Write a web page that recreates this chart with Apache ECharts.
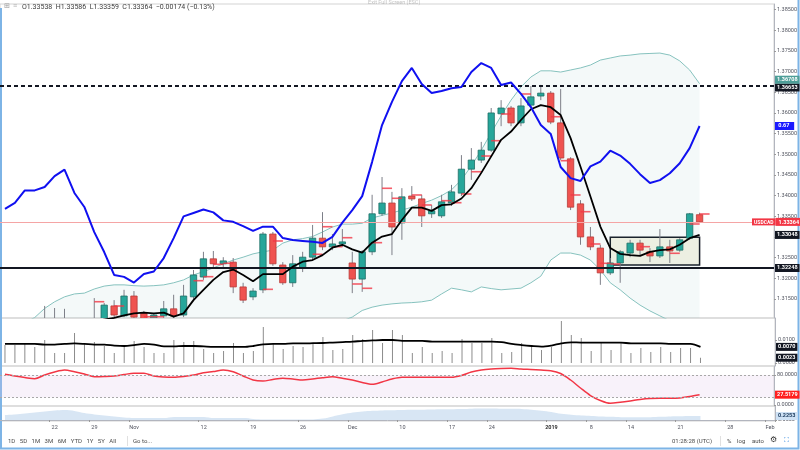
<!DOCTYPE html>
<html><head><meta charset="utf-8">
<script src="https://cdn.jsdelivr.net/npm/echarts@6/dist/echarts.min.js"></script>
<style>html,body{margin:0;padding:0;background:#fff}#c{width:800px;height:450px}</style>
</head><body><div id="c"></div>
<script>
// ---------- DATA ----------
const SLOTS = 78; // daily slots incl. empty future area
const tickIdx  = [5,9,13,20,25,30,35,40,45,49,55,59,63,68,73,77];
const tickText = ['22','29','Nov','12','19','26','Dec','10','17','24','2019','8','14','21','28','Feb'];
const priceTicks = [1.315,1.32,1.325,1.33,1.335,1.34,1.345,1.35,1.355,1.36,1.365,1.37,1.375,1.38,1.385];

const opens = [1.3062,1.3072,1.3066,1.3078,1.3075,1.3099,1.3075,1.3094,1.3080,1.3087,
1.3094,1.3133,1.3109,1.3157,1.3116,1.3101,1.3109,1.3126,1.3111,1.3155,
1.3203,1.3247,1.3235,1.3239,1.3179,1.3155,1.3172,1.3307,1.3232,1.3189,
1.3225,1.3251,1.3297,1.3276,1.3283,1.3237,1.3198,1.3264,1.3356,1.3382,
1.3334,1.3399,1.3392,1.3356,1.3351,1.3382,1.3406,1.3464,1.3486,1.3510,
1.3598,1.3612,1.3576,1.3619,1.3641,1.3648,1.3576,1.3489,1.3380,1.3300,
1.3273,1.3213,1.3237,1.3261,1.3285,1.3264,1.3254,1.3276,1.3268,1.3297,
1.33538];
const closes = [1.3071,1.3066,1.3078,1.3070,1.3099,1.3080,1.3094,1.3080,1.3090,1.3100,
1.3135,1.3111,1.3157,1.3106,1.3099,1.3111,1.3126,1.3109,1.3157,1.3208,
1.3247,1.3235,1.3242,1.3179,1.3147,1.3169,1.3307,1.3235,1.3189,1.3235,
1.3251,1.3297,1.3276,1.3283,1.3288,1.3198,1.3264,1.3356,1.3382,1.3324,
1.3397,1.3392,1.3351,1.3363,1.3385,1.3409,1.3464,1.3486,1.3510,1.3600,
1.3612,1.3576,1.3617,1.3639,1.3648,1.3578,1.3491,1.3372,1.3300,1.3276,
1.3213,1.3237,1.3264,1.3285,1.3268,1.3254,1.3276,1.3266,1.3293,1.3356,
1.33364];
const lows = [1.3050,1.3058,1.3060,1.3062,1.3068,1.3072,1.3068,1.3070,1.3072,1.3080,
1.3087,1.3104,1.3106,1.3099,1.3094,1.3097,1.3104,1.3104,1.3106,1.3147,
1.3196,1.3225,1.3227,1.3164,1.3140,1.3147,1.3164,1.3230,1.3184,1.3179,
1.3215,1.3244,1.3268,1.3268,1.3276,1.3164,1.3167,1.3256,1.3351,1.3256,
1.3293,1.3387,1.3324,1.3346,1.3346,1.3375,1.3399,1.3438,1.3479,1.3506,
1.3568,1.3568,1.3568,1.3612,1.3631,1.3573,1.3486,1.3365,1.3281,1.3268,
1.3184,1.3208,1.3189,1.3251,1.3254,1.3239,1.3249,1.3237,1.3264,1.3293,
1.33359];
const highs = [1.3080,1.3085,1.3090,1.3095,1.3133,1.3128,1.3126,1.3099,1.3094,1.3152,
1.3140,1.3147,1.3172,1.3169,1.3121,1.3116,1.3145,1.3160,1.3184,1.3220,
1.3264,1.3266,1.3251,1.3249,1.3189,1.3176,1.3312,1.3312,1.3239,1.3256,
1.3264,1.3329,1.3360,1.3307,1.3319,1.3264,1.3268,1.3402,1.3445,1.3409,
1.3418,1.3423,1.3402,1.3377,1.3402,1.3426,1.3498,1.3515,1.3530,1.3612,
1.3631,1.3617,1.3636,1.3665,1.3668,1.3653,1.3658,1.3493,1.3389,1.3324,
1.3281,1.3249,1.3268,1.3293,1.3293,1.3273,1.3319,1.3293,1.3297,1.3358,
1.33586];
const maLine = [1.3085,1.3082,1.3080,1.3078,1.3077,1.3077,1.3079,1.3083,1.3088,1.3094,
1.3100,1.3104,1.3110,1.3115,1.3117,1.3115,1.3117,1.3107,1.3115,1.3147,
1.3172,1.3196,1.3215,1.3221,1.3208,1.3193,1.3210,1.3210,1.3210,1.3228,
1.3240,1.3244,1.3256,1.3274,1.3281,1.3270,1.3262,1.3286,1.3301,1.3307,
1.3341,1.3371,1.3371,1.3363,1.3377,1.3379,1.3393,1.3418,1.3455,1.3495,
1.3535,1.3555,1.3583,1.3609,1.3619,1.3614,1.3595,1.3539,1.3470,1.3398,
1.3325,1.3273,1.3259,1.3256,1.3254,1.3264,1.3268,1.3270,1.3281,1.3297,
1.33048];
const bbUpper = [1.3063,1.3075,1.3092,1.3105,1.3127,1.3143,1.3155,1.3162,1.3164,1.3174,
1.3181,1.3184,1.3184,1.3182,1.3181,1.3182,1.3184,1.3189,1.3196,1.3208,
1.3216,1.3225,1.3235,1.3244,1.3251,1.3259,1.3264,1.3268,1.3285,1.3293,
1.3296,1.3301,1.3312,1.3324,1.3331,1.3331,1.3333,1.3346,1.3352,1.3358,
1.3365,1.3372,1.3381,1.3389,1.3400,1.3414,1.3438,1.3472,1.3510,1.3552,
1.3593,1.3631,1.3663,1.3687,1.3702,1.3702,1.3699,1.3704,1.3709,1.3716,
1.3728,1.3733,1.3738,1.3740,1.3743,1.3744,1.3745,1.3740,1.3726,1.3704,
1.36708];
const bbLower = [1.2990,1.2992,1.2994,1.2996,1.2998,1.3000,1.3002,1.3003,1.3004,1.3005,
1.3006,1.3006,1.3007,1.3007,1.3008,1.3008,1.3008,1.3009,1.3009,1.3010,
1.3010,1.3012,1.3014,1.3016,1.3018,1.3020,1.3023,1.3026,1.3030,1.3034,
1.3039,1.3051,1.3068,1.3084,1.3097,1.3106,1.3122,1.3130,1.3135,1.3138,
1.3140,1.3141,1.3143,1.3147,1.3162,1.3176,1.3172,1.3167,1.3179,1.3175,
1.3172,1.3174,1.3176,1.3189,1.3205,1.3244,1.3261,1.3261,1.3256,1.3244,
1.3220,1.3189,1.3172,1.3152,1.3135,1.3121,1.3109,1.3097,1.3084,1.3075,
1.3065];
const blueLine = [0.382,0.403,0.447,0.447,0.459,0.497,0.520,0.438,0.389,0.301,
0.231,0.151,0.144,0.124,0.154,0.163,0.210,0.280,0.356,0.368,
0.380,0.370,0.342,0.337,0.322,0.305,0.320,0.320,0.280,0.273,
0.270,0.267,0.263,0.284,0.334,0.378,0.427,0.547,0.676,0.757,
0.830,0.876,0.820,0.788,0.795,0.805,0.809,0.862,0.893,0.876,
0.816,0.825,0.785,0.739,0.676,0.645,0.529,0.490,0.480,0.531,
0.548,0.586,0.569,0.540,0.504,0.473,0.483,0.507,0.542,0.595,
0.6726];
const histVals = [0.0078,0.0078,0.0087,0.0070,0.0100,0.0043,0.0043,0.0130,0.0083,0.0091,
0.0074,0.0043,0.0074,0.0096,0.0070,0.0043,0.0043,0.0100,0.0091,0.0096,
0.0061,0.0043,0.0052,0.0087,0.0043,0.0052,0.0157,0.0087,0.0061,0.0074,
0.0070,0.0087,0.0113,0.0057,0.0061,0.0122,0.0104,0.0143,0.0087,0.0143,
0.0122,0.0043,0.0070,0.0043,0.0052,0.0043,0.0104,0.0087,0.0087,0.0109,
0.0043,0.0048,0.0087,0.0074,0.0057,0.0070,0.0183,0.0122,0.0109,0.0052,
0.0091,0.0057,0.0087,0.0043,0.0065,0.0048,0.0070,0.0048,0.0065,0.0065,
0.0023];
const histAvg = [0.0083,0.0083,0.0083,0.0083,0.0080,0.0080,0.0083,0.0085,0.0083,0.0080,
0.0080,0.0076,0.0074,0.0078,0.0083,0.0080,0.0072,0.0072,0.0074,0.0074,
0.0072,0.0070,0.0070,0.0070,0.0070,0.0074,0.0081,0.0083,0.0083,0.0085,
0.0085,0.0086,0.0087,0.0089,0.0091,0.0093,0.0096,0.0098,0.0100,0.0100,
0.0096,0.0096,0.0096,0.0093,0.0093,0.0093,0.0093,0.0093,0.0093,0.0093,
0.0091,0.0083,0.0078,0.0074,0.0071,0.0076,0.0085,0.0090,0.0089,0.0089,
0.0089,0.0089,0.0089,0.0085,0.0085,0.0085,0.0085,0.0083,0.0083,0.0083,
0.0070];
const oscVals = [81.9,77.3,73.3,70.1,80.0,88.0,93.3,88.8,82.7,75.5,
76.0,77.3,81.3,84.5,84.5,77.3,74.7,73.9,76.0,80.0,
86.1,89.3,93.3,88.8,77.3,66.7,64.0,68.0,71.2,69.3,
66.7,69.3,72.8,75.5,71.2,66.7,60.0,55.2,61.3,69.3,
73.9,73.9,73.9,73.9,73.9,73.9,78.7,88.0,93.3,96.0,
97.3,97.9,96.0,94.7,93.3,91.5,84.0,66.7,45.3,25.3,
12.0,4.5,7.2,10.7,14.7,17.3,17.9,17.9,18.7,22.7,
27.5179];
const areaVals = [0.28,0.31,0.37,0.42,0.48,0.53,0.56,0.51,0.39,0.31,
0.25,0.20,0.14,0.11,0.11,0.11,0.11,0.17,0.17,0.17,
0.17,0.11,0.11,0.11,0.11,0.06,0.03,0.03,0.03,0.03,
0.03,0.03,0.08,0.20,0.32,0.42,0.48,0.52,0.54,0.55,
0.56,0.57,0.58,0.59,0.60,0.61,0.62,0.64,0.65,0.65,
0.64,0.63,0.62,0.58,0.52,0.45,0.35,0.29,0.25,0.23,
0.20,0.18,0.16,0.15,0.15,0.16,0.18,0.20,0.21,0.22,
0.2253];
const dashIdx = [9,11,14,15,19,20,21,22,26,27,31,32,33,34,35,36,37,38,39,41,42,44,45,46,47,48,49,50,52,55,56,57,58,59,60,61,64,67,69,70];
const dashVal = [1.31432,1.31328,1.31069,1.31069,1.31941,1.32038,1.32337,1.32362,1.31732,1.32902,
1.32580,1.33247,1.32764,1.32981,1.31861,1.31757,1.32861,1.34177,1.33935,1.34015,
1.33773,1.33877,1.33828,1.34039,1.34578,1.34958,1.35329,1.35975,1.36459,1.35909,
1.34845,1.34015,1.33611,1.32829,1.32362,1.32345,1.32764,1.32604,1.33313,1.33555];
const resistance = 1.36653, support = 1.32248, lastPrice = 1.33364;
const boxFrom = [61, 1.32991], boxTo = [70, 1.32321];

// ---------- CHART ----------
const cats = Array.from({length: SLOTS}, (_, i) => String(i));
const labelOf = {}; tickIdx.forEach((k, i) => labelOf[k] = tickText[i]);
const candleData = opens.map((o, i) => [i, o, closes[i], lows[i], highs[i]]);
const bbWidth = bbUpper.map((u, i) => +(u - bbLower[i]).toFixed(5));
const dashData = dashIdx.map((k, i) => [k, dashVal[i]]);
const last = a => a[a.length - 1];

const FONT = 'Roboto, "Liberation Sans", sans-serif';
const AX = '#50535e';
const NOLINE = {color: 'rgba(0,0,0,0)', width: 0};
const gridBase = {left: -2, width: 777, show: true, borderColor: '#d3d3d3', borderWidth: 1, backgroundColor: 'transparent'};
function tag(text, bg, fg, dy) {
  return {show: true, position: 'end', distance: 1, formatter: text, color: fg || '#fff', offset: [0, dy || 0],
    backgroundColor: bg, padding: [1.5, 2, 0.5, 2], fontSize: 5.5, fontFamily: FONT, fontWeight: 'bold', opacity: 1};
}
function valueTag(v, text, bg, fg, dy) {
  return {silent: true, symbol: ['none', 'none'], precision: 6, lineStyle: NOLINE,
    data: [{yAxis: v, lineStyle: NOLINE, label: tag(text, bg, fg, dy)}]};
}
function yAx(grid, min, max, ticks, dec) {
  return {type: 'value', gridIndex: grid, position: 'right', min, max,
    axisLine: {show: true, lineStyle: {color: '#b2b5be'}},
    axisTick: {show: true, length: 2, customValues: ticks, lineStyle: {color: '#9a9a9a'}},
    axisLabel: {show: true, customValues: ticks, formatter: v => v.toFixed(dec), fontSize: 5.5, color: AX, margin: 3, fontFamily: FONT},
    splitLine: {show: false}};
}

const option = {
  animation: false,
  backgroundColor: '#ffffff',
  grid: [
    Object.assign({top: 4, height: 314}, gridBase),
    Object.assign({top: 318, height: 48}, gridBase),
    Object.assign({top: 366, height: 40}, gridBase),
    Object.assign({top: 406, height: 15}, gridBase)
  ],
  xAxis: [0, 1, 2, 3].map(g => ({
    type: 'category', gridIndex: g, data: cats, boundaryGap: true,
    axisLine: {show: g === 3, lineStyle: {color: '#b2b5be'}},
    axisTick: {show: g === 3, interval: idx => labelOf[idx] !== undefined, length: 2, lineStyle: {color: '#9a9a9a'}},
    axisLabel: {show: g === 3, interval: idx => labelOf[idx] !== undefined,
      formatter: (v, idx) => labelOf[idx] === '2019' ? '{b|2019}' : (labelOf[idx] || ''),
      fontSize: 5.5, color: AX, margin: 4, fontFamily: FONT,
      rich: {b: {fontWeight: 'bold', fontSize: 5.5, color: '#333', fontFamily: FONT}}},
    splitLine: {show: false}
  })),
  yAxis: [
    yAx(0, 1.31038, 1.38637, priceTicks, 5),
    {type: 'value', gridIndex: 0, min: 0, max: 1.1, show: false},
    yAx(1, -0.0013, 0.019565, [0, 0.01], 4),
    yAx(2, -2.667, 104, [0, 80], 4),
    yAx(3, -0.0563, 0.788, [0], 4)
  ],
  graphic: [
    {type: 'text', left: 22, top: 4, style: {text: 'O1.33538  H1.33586  L1.33359  C1.33364  \u22120.00174 (\u22120.13%)', fontSize: 7, fill: '#3c3c3c', fontFamily: FONT}},
    {type: 'text', left: 4, top: 3, style: {text: '\u229e', fontSize: 7, fill: '#9a9a9a'}},
    {type: 'text', left: 13, top: 3, style: {text: '\u2261', fontSize: 7, fill: '#b0b0b0'}},
    {type: 'text', left: 368, top: 0, style: {text: 'Exit Full Screen (ESC)', fontSize: 5.5, fill: 'rgba(120,120,120,0.45)', fontFamily: FONT}},
    {type: 'text', left: 8, top: 438, style: {text: '1D   5D   1M   3M   6M   YTD   1Y   5Y   All', fontSize: 6, fill: '#4a4a4a', fontFamily: FONT}},
    {type: 'rect', left: 127, top: 436, shape: {width: 0.8, height: 10}, style: {fill: '#d8d8d8'}},
    {type: 'text', left: 133, top: 438, style: {text: 'Go to...', fontSize: 6, fill: '#4a4a4a', fontFamily: FONT}},
    {type: 'text', left: 672, top: 438, style: {text: '01:28:28 (UTC)', fontSize: 6, fill: '#4a4a4a', fontFamily: FONT}},
    {type: 'rect', left: 720, top: 436, shape: {width: 0.8, height: 10}, style: {fill: '#d8d8d8'}},
    {type: 'text', left: 727, top: 438, style: {text: '%', fontSize: 6, fill: '#4a4a4a', fontFamily: FONT}},
    {type: 'text', left: 737, top: 438, style: {text: 'log', fontSize: 6, fill: '#4a4a4a', fontFamily: FONT}},
    {type: 'text', left: 752, top: 438, style: {text: 'auto', fontSize: 6, fill: '#4a4a4a', fontFamily: FONT}},
    {type: 'text', left: 770, top: 436, style: {text: '\u2699', fontSize: 8, fill: '#333'}},
    {type: 'text', left: 784, top: 437, style: {text: '\u26f6', fontSize: 7, fill: '#2e86de'}},
    {type: 'polyline', shape: {points: [[1, 8], [1, 448.5], [798.5, 448.5], [798.5, 0]]}, style: {stroke: '#7db4e6', lineWidth: 2, fill: null}}
  ],
  series: [
    {name: 'bbBase', type: 'line', xAxisIndex: 0, yAxisIndex: 0, data: bbLower, stack: 'bb', symbol: 'none', silent: true,
      lineStyle: NOLINE, z: 1},
    {name: 'bbFill', type: 'line', xAxisIndex: 0, yAxisIndex: 0, data: bbWidth, stack: 'bb', symbol: 'none', silent: true,
      lineStyle: NOLINE, areaStyle: {color: 'rgba(110,180,175,0.11)'}, z: 1},
    {name: 'bbUpper', type: 'line', data: bbUpper, symbol: 'none', silent: true, lineStyle: {color: '#86c2be', width: 1}, z: 2},
    {name: 'bbLower', type: 'line', data: bbLower, symbol: 'none', silent: true, lineStyle: {color: '#86c2be', width: 1}, z: 2},
    {name: 'candles', type: 'custom', xAxisIndex: 0, yAxisIndex: 0, data: candleData, clip: true, z: 3,
      encode: {x: 0, y: [1, 2, 3, 4]},
      renderItem: (params, api) => {
        const k = api.value(0), o = api.value(1), c = api.value(2), l = api.value(3), h = api.value(4);
        const pO = api.coord([k, o]), pC = api.coord([k, c]), pL = api.coord([k, l]), pH = api.coord([k, h]);
        const w = api.size([1, 0])[0] * 0.64;
        const up = c >= o;
        const top = Math.min(pO[1], pC[1]), bot = Math.max(pO[1], pC[1]);
        return {type: 'group', children: [
          {type: 'line', shape: {x1: pH[0], y1: pH[1], x2: pL[0], y2: pL[1]}, style: {stroke: '#7d7f88', lineWidth: 1}},
          {type: 'rect', shape: {x: pO[0] - w / 2, y: top, width: w, height: Math.max(bot - top, 1)},
            style: {fill: up ? '#26a69a' : '#ef5350', stroke: up ? '#1f6e66' : '#b73b39', lineWidth: 0.8}}
        ]};
      }},
    {name: 'dashes', type: 'scatter', data: dashData, symbol: 'rect', symbolSize: [10, 1.6], symbolOffset: [5, 0],
      itemStyle: {color: '#f23645'}, silent: true, z: 3},
    {name: 'drawings', type: 'line', data: [], z: 4, silent: true,
      markArea: {silent: true, precision: 6, itemStyle: {color: 'rgba(244,241,222,0.72)', borderColor: '#131722', borderWidth: 1.5},
        data: [[{coord: boxFrom}, {coord: boxTo}]]},
      markLine: {silent: true, symbol: ['none', 'none'], precision: 6, data: [
        {yAxis: resistance, lineStyle: {color: '#131722', width: 2, type: [4, 3]}, label: tag('1.36653', '#131722', '#fff', 1.5)},
        {yAxis: support, lineStyle: {color: '#131722', width: 2, type: 'solid'}, label: tag('1.32248', '#131722')},
        {yAxis: lastPrice, lineStyle: {color: '#f5a5a5', width: 1, type: 'solid'},
          label: {show: true, position: 'end', distance: -22, formatter: '{a|USDCAD}{b|1.33364}',
            rich: {a: {backgroundColor: '#f23645', color: '#fff', fontSize: 5, padding: [1.5, 2, 0.5, 2], fontFamily: FONT, fontWeight: 'bold'},
                   b: {backgroundColor: '#f23645', color: '#fff', fontSize: 5.5, padding: [1.5, 2, 0.5, 3], fontFamily: FONT, fontWeight: 'bold'}}}}
      ]}},
    {name: 'bbTag', type: 'line', data: [], z: 6, silent: true,
      markLine: valueTag(last(bbUpper), '1.36708', '#4d9e98', '#fff', -4)},
    {name: 'ma', type: 'line', data: maLine, symbol: 'none', silent: true, lineStyle: {color: '#000', width: 1.8}, z: 5,
      markLine: valueTag(last(maLine), '1.33048', '#131722')},
    {name: 'blue', type: 'line', xAxisIndex: 0, yAxisIndex: 1, data: blueLine, symbol: 'none', silent: true,
      lineStyle: {color: '#1010f0', width: 2}, z: 5,
      markLine: valueTag(last(blueLine), ' 0.67  ', '#1a1aff')},
    {name: 'hist', type: 'bar', xAxisIndex: 1, yAxisIndex: 2, data: histVals, barWidth: 1, silent: true,
      itemStyle: {color: '#8c8c8c'}, z: 2,
      markLine: valueTag(last(histVals), '0.0023', '#131722')},
    {name: 'histAvg', type: 'line', xAxisIndex: 1, yAxisIndex: 2, data: histAvg, symbol: 'none', silent: true, smooth: 0.3,
      lineStyle: {color: '#000', width: 1.8}, z: 3,
      markLine: valueTag(last(histAvg), '0.0070', '#131722')},
    {name: 'osc', type: 'line', xAxisIndex: 2, yAxisIndex: 3, data: oscVals, symbol: 'none', silent: true, smooth: 0.3,
      lineStyle: {color: '#f23645', width: 1.5}, z: 3,
      markArea: {silent: true, itemStyle: {color: 'rgba(225,195,230,0.22)'}, data: [[{yAxis: 20}, {yAxis: 80}]]},
      markLine: {silent: true, symbol: ['none', 'none'], precision: 6, data: [
        {yAxis: 80, lineStyle: {color: '#a8a8a8', width: 1, type: [2, 2]}, label: {show: false}},
        {yAxis: 20, lineStyle: {color: '#a8a8a8', width: 1, type: [2, 2]}, label: {show: false}},
        {yAxis: last(oscVals), lineStyle: NOLINE, label: tag('27.5179', '#ff1f1f')}
      ]}},
    {name: 'area', type: 'line', xAxisIndex: 3, yAxisIndex: 4, data: areaVals, symbol: 'none', silent: true, smooth: 0.3,
      lineStyle: NOLINE, areaStyle: {color: '#c7dcf0'}, z: 2,
      markLine: valueTag(last(areaVals), '0.2253', '#cfe2f5', '#1b3a5c')}
  ]
};
const chart = echarts.init(document.getElementById('c'));
chart.setOption(option);
</script>
</body></html>
